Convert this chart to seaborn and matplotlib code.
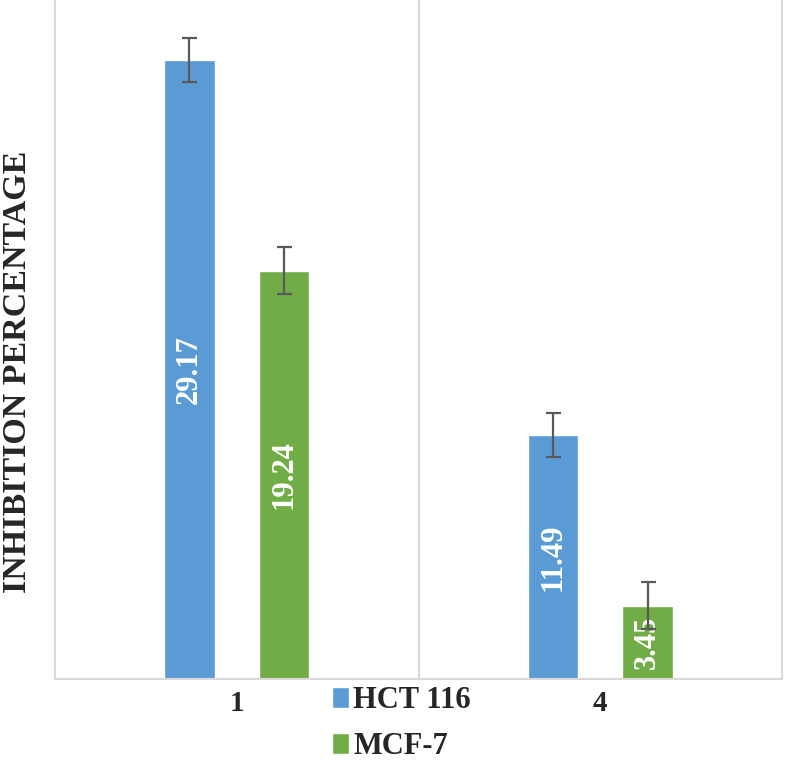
import numpy as np
import pandas as pd
import matplotlib
matplotlib.use("Agg")
import matplotlib.pyplot as plt
import seaborn as sns

# data
compounds = ["1", "4"]
cells = ["HCT 116", "MCF-7"]
hct = [29.17, 11.49]
mcf = [19.24, 3.45]
hct_err = [1.05, 1.05]
mcf_err = [1.1, 1.1]

blue = "#5b9bd5"
green = "#70ad47"
grid_c = "#d9d9d9"

sns.set_style("white")
plt.rcParams['font.family'] = ['Liberation Serif', 'DejaVu Serif']

df = pd.DataFrame({
    "compound": compounds * 2,
    "cell": [cells[0]] * 2 + [cells[1]] * 2,
    "value": hct + mcf,
})

fig = plt.figure(figsize=(7.85, 7.80), dpi=100)
ax = fig.add_axes([55/785, 1-679/780, (782-55)/785, 679/780])

sns.barplot(data=df, x="compound", y="value", hue="cell", order=compounds,
            hue_order=cells, palette=[blue, green], width=0.52, gap=0.47,
            errorbar=None, saturation=1, ax=ax)

errs = [hct_err, mcf_err]
for cont, err in zip(ax.containers, errs):
    for bar, e in zip(cont, err):
        xc = bar.get_x() + bar.get_width() / 2
        ax.errorbar(xc, bar.get_height(), yerr=e, color="#595959", lw=1.6,
                    capsize=5.4, capthick=1.6, zorder=5)
    ax.bar_label(cont, labels=[f"{v:.2f}" for v in cont.datavalues],
                 label_type="center", rotation=90, color="white",
                 fontweight="bold", fontsize=22)

ax.axvline(0.5, color=grid_c, lw=1.5, zorder=0)
ax.set_xlim(-0.5, 1.5)
ax.set_ylim(0, 32)
ax.set_yticks([])
ax.set_xlabel("")
ax.set_ylabel("INHIBITION PERCENTAGE", fontsize=24.5, fontweight="bold")
ax.yaxis.set_label_coords(-0.030, 0.452)
ax.tick_params(axis="x", length=0, pad=8, labelsize=21)
for t in ax.get_xticklabels():
    t.set_fontweight("bold")
for s in ["left", "right", "bottom"]:
    ax.spines[s].set_color(grid_c)
    ax.spines[s].set_linewidth(1.5)
ax.spines["top"].set_visible(False)

handles, labels = ax.get_legend_handles_labels()
ax.legend(handles, labels, loc="upper left", bbox_to_anchor=(0.423, 0.120),
          bbox_transform=fig.transFigure, frameon=False, borderpad=0,
          borderaxespad=0, handlelength=0.55, handleheight=0.7,
          handletextpad=0.15, labelspacing=0.55,
          prop={"size": 22, "weight": "bold"})

fig.savefig("out.png", dpi=100)
